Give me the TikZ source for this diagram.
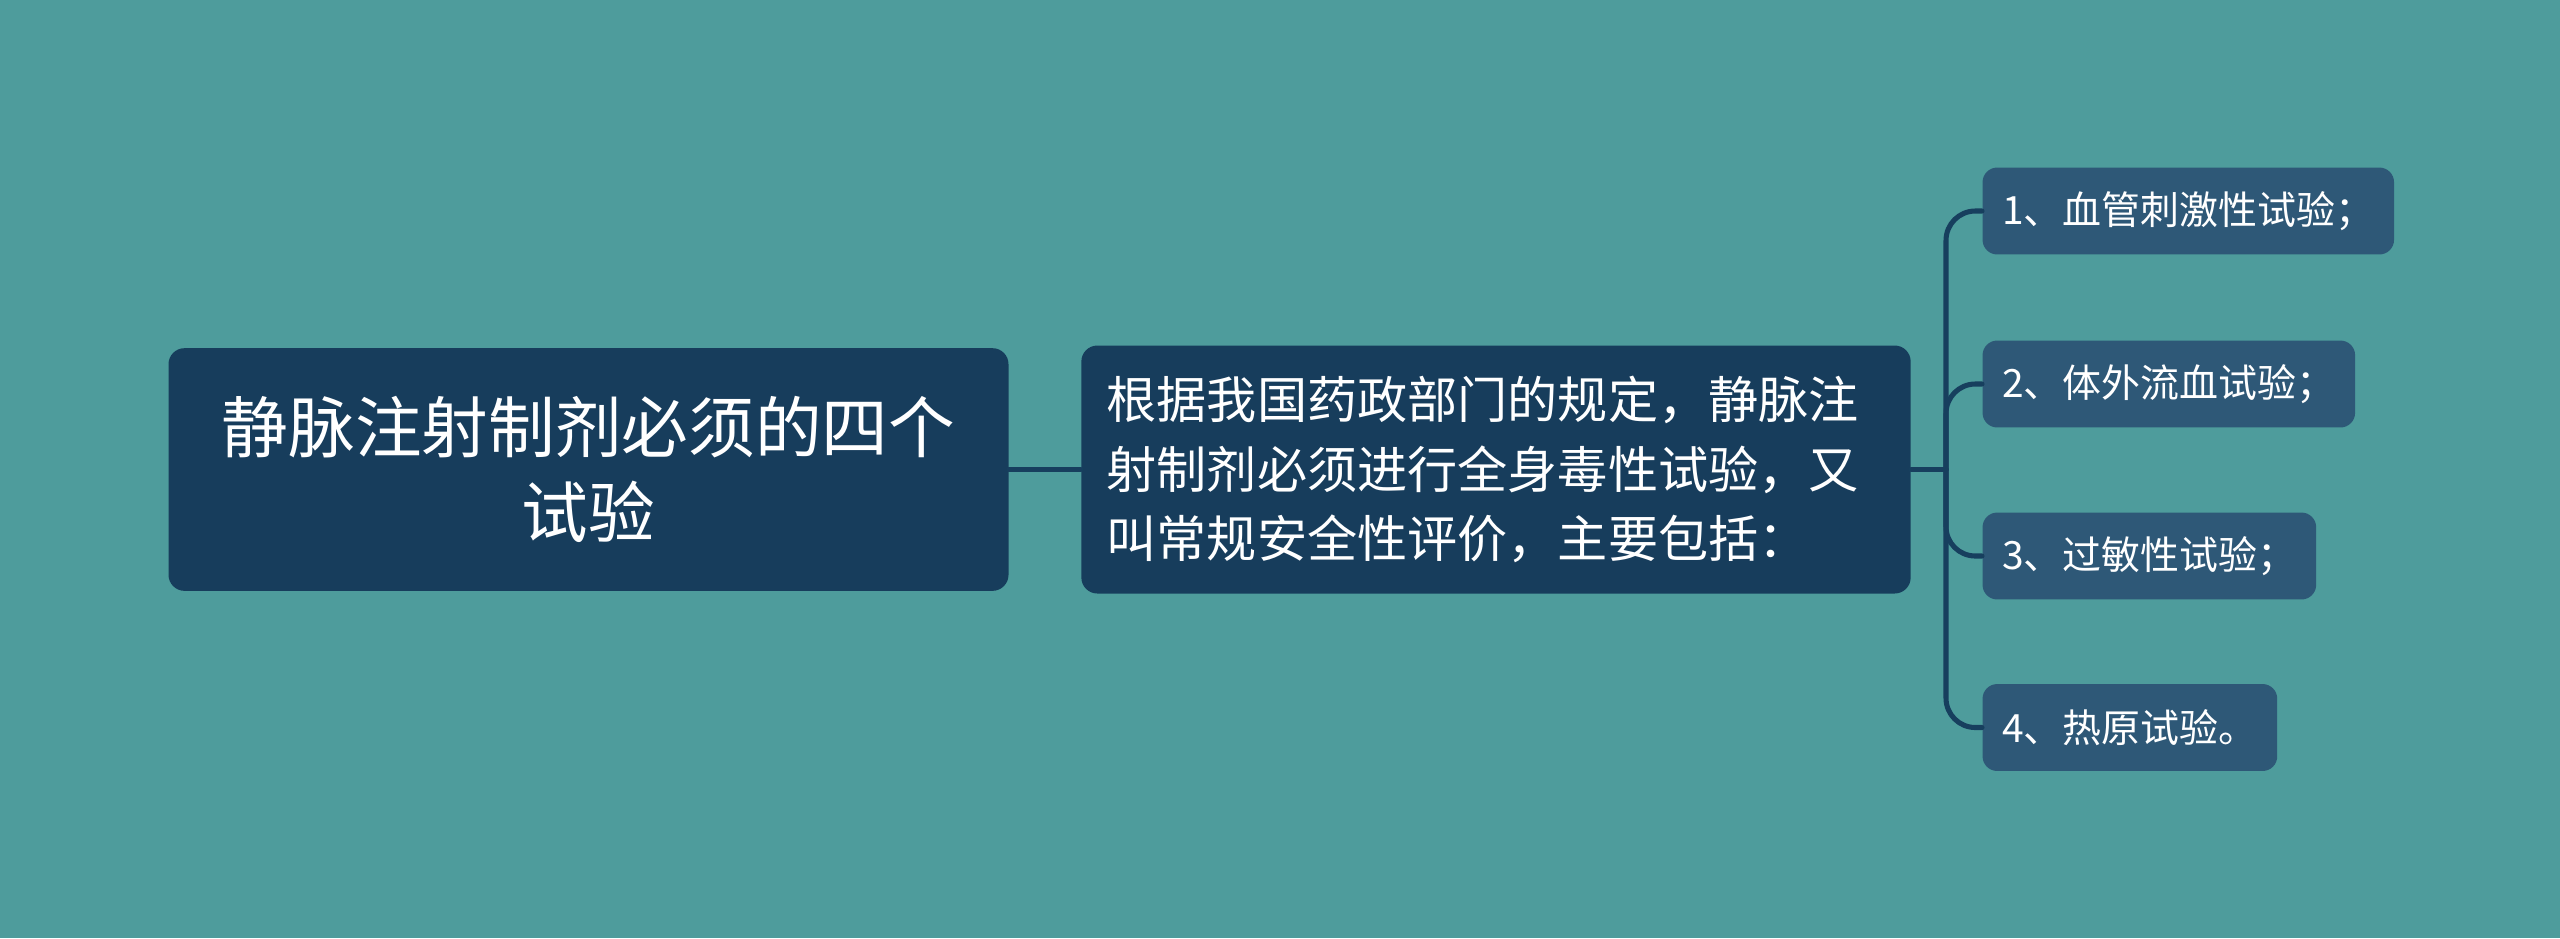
\documentclass[tikz,border=0pt]{standalone}
\usepackage{fontspec}
\setmainfont{Noto Sans CJK SC}
\usepackage{xcolor}
\definecolor{bgteal}{HTML}{4E9C9C}
\definecolor{darkbox}{HTML}{173D5C}
\definecolor{leafbox}{HTML}{2E5877}
\definecolor{linkcol}{HTML}{173F5E}
\begin{document}
\begin{tikzpicture}[line cap=round,x=0.375pt,y={(0pt,-0.375pt)},
  rootbox/.style={fill=darkbox,rounded corners=6pt,text=white,align=center,
    minimum width=315pt,minimum height=91pt,font=\fontsize{25}{32}\selectfont},
  midbox/.style={fill=darkbox,rounded corners=6pt,text=white,align=left,
    text width=292pt,inner xsep=9.5pt,minimum height=93pt,font=\fontsize{18.8}{26}\selectfont},
  leafbox/.style={fill=leafbox,rounded corners=5.5pt,text=white,anchor=west,
    inner xsep=7.4pt,minimum height=32.6pt,font=\fontsize{14.6}{18}\selectfont},
  link/.style={draw=linkcol,line width=1.9pt}]
\fill[bgteal] (0,0) rectangle (2560,938);
\node[rootbox] (root) at (588.5,469.5) {静脉注射制剂必须的四个\\试验};
\node[midbox] (rule) at (1496,469.5) {根据我国药政部门的规定，静脉注\\射制剂必须进行全身毒性试验，又\\叫常规安全性评价，主要包括：};
\node[leafbox] (leaf1) at (1982,211) {1、血管刺激性试验；};
\node[leafbox] (leaf2) at (1982,384) {2、体外流血试验；};
\node[leafbox] (leaf3) at (1982,556) {3、过敏性试验；};
\node[leafbox] (leaf4) at (1982,727.5) {4、热原试验。};
\coordinate (trunk) at (1946,469.5);
\draw[link] (root.east) -- (rule.west);
\draw[link] (rule.east) -- (trunk);
\draw[link,rounded corners=11pt] (trunk) |- (leaf1.west);
\draw[link,rounded corners=11pt] (trunk) |- (leaf2.west);
\draw[link,rounded corners=11pt] (trunk) |- (leaf3.west);
\draw[link,rounded corners=11pt] (trunk) |- (leaf4.west);
\end{tikzpicture}
\end{document}
